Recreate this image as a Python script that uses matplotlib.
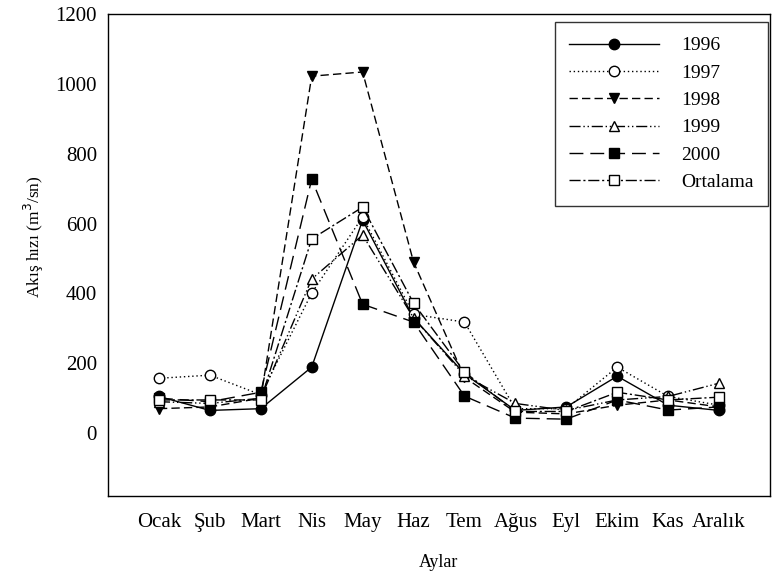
import matplotlib
matplotlib.use("Agg")
import matplotlib.pyplot as plt

months = ["Ocak", "Şub", "Mart", "Nis", "May", "Haz", "Tem", "Ağus", "Eyl", "Ekim", "Kas", "Aralık"]
y1996 = [105, 65, 70, 189, 610, 330, 170, 65, 75, 163, 80, 65]
y1997 = [157, 166, 110, 401, 619, 340, 318, 70, 70, 189, 105, 80]
y1998 = [70, 75, 100, 1022, 1034, 490, 160, 60, 55, 80, 95, 75]
y1999 = [90, 85, 100, 441, 567, 330, 165, 85, 65, 95, 105, 143]
y2000 = [100, 90, 117, 727, 369, 318, 106, 43, 40, 95, 66, 75]
ortalama = [95, 95, 95, 556, 647, 372, 175, 62, 62, 117, 95, 103]
yticks = [0, 200, 400, 600, 800, 1000, 1200]

plt.rcParams['font.family'] = ['Liberation Serif', 'DejaVu Serif']
fig = plt.figure(figsize=(7.73, 5.76), dpi=100)
ax = fig.add_axes([108/773, 80/576, 662/773, 482/576])

x = list(range(1, len(months) + 1))
ms = 7.5
series = [
    ("1996", y1996, dict(linestyle='-', marker='o', mfc='black')),
    ("1997", y1997, dict(linestyle=(0, (1, 2)), marker='o', mfc='white')),
    ("1998", y1998, dict(linestyle=(0, (6, 3)), marker='v', mfc='black')),
    ("1999", y1999, dict(linestyle=(0, (8, 2, 1, 2, 1, 2)), marker='^', mfc='white')),
    ("2000", y2000, dict(linestyle=(0, (10, 5)), marker='s', mfc='black')),
    ("Ortalama", ortalama, dict(linestyle=(0, (8, 2, 1.5, 2)), marker='s', mfc='white')),
]
for label, vals, st in series:
    ax.plot(x, vals, color='black', lw=1.0, markersize=ms, mec='black', mew=1.0,
            label=label, **st)

ax.set_xlim(0, 13)
ax.set_ylim(-180, 1200)
ax.set_xticks(x)
ax.set_xticklabels(months)
ax.set_yticks(yticks)
ax.tick_params(axis='both', length=0, labelsize=15)
ax.tick_params(axis='x', pad=12)
ax.tick_params(axis='y', pad=8)
for s in ax.spines.values():
    s.set_linewidth(1.0)

ax.set_xlabel("Aylar", fontsize=13, labelpad=16)
ax.set_ylabel("Akış hızı (m$^3$/sn)", fontsize=12.5)
ax.yaxis.set_label_coords(-0.093, 0.537)

leg = ax.legend(loc='upper right', bbox_to_anchor=(0.997, 0.983), borderaxespad=0,
                fontsize=14, frameon=True, fancybox=False, edgecolor='black',
                handlelength=4.6, borderpad=0.75, labelspacing=0.5, handletextpad=1.15)
leg.get_frame().set_linewidth(1.0)

fig.savefig("out.png", dpi=100)
